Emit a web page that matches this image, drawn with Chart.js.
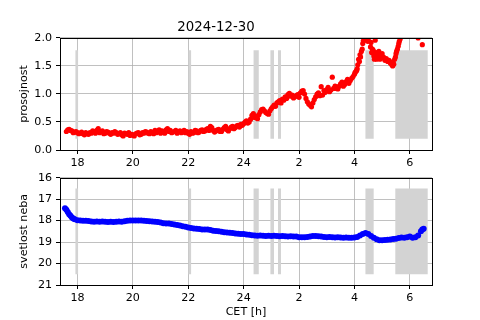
<!DOCTYPE html>
<html>
<head>
<meta charset="utf-8">
<script src="https://cdn.jsdelivr.net/npm/chart.js@4/dist/chart.umd.min.js"></script>
<style>
html,body{margin:0;padding:0;background:#fff;}
#wrap{position:relative;width:480px;height:320px;}
#c1{position:absolute;left:0;top:0;}
#c2{position:absolute;left:0;top:167px;}
</style>
</head>
<body>
<div id="wrap">
<canvas id="c1" width="480" height="167"></canvas>
<canvas id="c2" width="480" height="153"></canvas>
</div>
<script>
// ---- data ----
const titleText = "2024-12-30";
const xTickValues = [18, 20, 22, 24, 26, 28, 30];
const xTickLabels = ["18", "20", "22", "24", "2", "4", "6"];
const topYTicks = [0, 0.5, 1.0, 1.5, 2.0];
const bottomYTicks = [16, 17, 18, 19, 20, 21];

// transparency (prosojnost): hours since midnight of 2024-12-30 (values >24 are next day)
const transTimes = [
 17.6,17.7,17.8,17.9,18.0,18.1,18.2,18.3,18.4,18.5,18.6,18.7,18.8,18.9,19.0,19.1,19.2,19.3,19.4,19.5,
 19.6,19.7,19.8,19.9,20.0,20.1,20.2,20.3,20.4,20.5,20.6,20.7,20.8,20.9,21.0,21.1,21.2,21.3,21.4,21.5,
 21.6,21.7,21.8,21.9,22.0,22.1,22.2,22.3,22.4,22.5,22.6,22.7,22.8,22.9,23.0,23.1,23.2,23.3,23.4,23.5,
 23.6,23.7,23.8,23.9,24.0,24.1,24.2,24.3,24.4,24.5,24.6,24.7,24.8,24.9,25.0,25.1,25.2,25.3,25.4,25.5,
 25.6,25.7,25.8,25.9,26.0,26.1,26.2,26.3,26.4,26.5,26.6,26.7,26.8,26.85,26.9,27.0,27.1,27.2,27.25,27.3,
 27.4,27.5,27.6,27.7,27.8,27.9,28.0,28.05,28.1,28.15,28.2,28.25,28.3,28.35,28.4,28.45,28.5,28.55,28.6,28.65,
 28.7,28.75,28.8,28.85,28.9,28.95,29.0,29.1,29.2,29.3,29.35,29.4,29.45,29.5,29.55,29.6,29.65,29.7,29.8,30.0,
 30.3,30.45
];
const transValues = [
 0.33,0.37,0.34,0.32,0.31,0.30,0.29,0.31,0.28,0.30,0.33,0.35,0.31,0.34,0.30,0.32,0.28,0.30,0.31,0.29,
 0.27,0.30,0.28,0.26,0.27,0.29,0.31,0.28,0.30,0.32,0.29,0.31,0.35,0.33,0.30,0.32,0.36,0.33,0.31,0.33,
 0.30,0.34,0.32,0.31,0.30,0.33,0.31,0.34,0.32,0.36,0.34,0.38,0.42,0.35,0.34,0.37,0.33,0.40,0.36,0.38,
 0.42,0.40,0.44,0.46,0.47,0.52,0.50,0.62,0.58,0.56,0.68,0.73,0.67,0.64,0.74,0.80,0.84,0.88,0.91,0.95,
 0.99,0.96,0.93,0.97,0.94,1.05,1.00,0.86,0.80,0.84,0.95,1.02,1.13,0.98,1.06,1.08,1.04,1.30,1.10,1.14,
 1.09,1.18,1.14,1.22,1.19,1.28,1.35,1.40,1.45,1.62,1.70,1.76,1.90,2.05,1.96,2.10,1.98,2.03,1.92,1.80,
 1.68,1.96,1.62,1.72,1.70,1.64,1.72,1.60,1.58,1.55,1.52,1.56,1.62,1.72,1.80,1.90,1.98,2.05,2.10,2.15,
 2.00,1.88
];
// additional in-between readings of the same series
const transTimes2 = [
 17.65,17.75,17.85,17.95,18.05,18.15,18.25,18.35,18.45,18.55,18.65,18.75,18.85,18.95,19.05,19.15,19.25,19.35,19.45,19.55,
 19.65,19.75,19.85,19.95,20.05,20.15,20.25,20.35,20.45,20.55,20.65,20.75,20.85,20.95,21.05,21.15,21.25,21.35,21.45,21.55,
 21.65,21.75,21.85,21.95,22.05,22.15,22.25,22.35,22.45,22.55,22.65,22.75,22.85,22.95,23.05,23.15,23.25,23.35,23.45,23.55,
 23.65,23.75,23.85,23.95,24.05,24.15,24.25,24.35,24.45,24.55,24.65,24.75,24.85,24.95,25.05,25.15,25.25,25.35,25.45,25.55,
 25.65,25.75,25.85,25.95,26.05,26.15,26.25,26.35,26.45,26.55,26.65,26.75,26.95,27.05,27.15,27.35,27.45,27.55,27.65,27.75,
 27.85,27.95,28.02,28.08,28.12,28.18,28.22,28.28,28.32,28.42,28.48,28.58,28.62,28.68,28.72,28.78,28.82,28.88,28.92,29.05,
 29.15,29.25,29.32,29.38,29.42,29.48,29.52,29.58,29.62
];
const transValues2 = [
 0.36,0.35,0.31,0.33,0.29,0.32,0.27,0.29,0.31,0.34,0.30,0.38,0.33,0.29,0.33,0.30,0.31,0.33,0.28,0.31,
 0.25,0.29,0.31,0.28,0.25,0.30,0.27,0.31,0.33,0.30,0.33,0.29,0.31,0.36,0.34,0.30,0.38,0.35,0.32,0.35,
 0.33,0.31,0.35,0.33,0.28,0.30,0.35,0.31,0.35,0.33,0.37,0.35,0.40,0.32,0.36,0.33,0.37,0.42,0.34,0.41,
 0.38,0.43,0.41,0.44,0.50,0.48,0.55,0.65,0.60,0.63,0.72,0.70,0.65,0.70,0.77,0.78,0.86,0.84,0.89,0.92,
 1.01,0.98,0.95,0.99,1.02,1.06,0.92,0.82,0.77,0.90,1.00,0.97,1.03,1.12,1.07,1.10,1.14,1.21,1.17,1.26,
 1.24,1.31,1.38,1.42,1.52,1.58,1.66,1.80,1.95,2.03,1.94,1.84,1.74,1.78,1.62,1.74,1.67,1.76,1.62,1.66,
 1.63,1.60,1.57,1.50,1.53,1.66,1.76,1.85,1.94
];

// sky brightness (svetlost neba)
const skyTimes = [
 17.55,17.6,17.65,17.7,17.75,17.8,17.85,17.9,18.0,18.1,18.2,18.3,18.4,18.5,18.6,18.7,18.8,18.9,19.0,19.1,
 19.2,19.3,19.4,19.5,19.6,19.7,19.8,19.9,20.0,20.1,20.2,20.3,20.4,20.5,20.6,20.7,20.8,20.9,21.0,21.1,
 21.2,21.3,21.4,21.5,21.6,21.7,21.8,21.9,22.0,22.1,22.2,22.3,22.4,22.5,22.6,22.7,22.8,22.9,23.0,23.1,
 23.2,23.3,23.4,23.5,23.6,23.7,23.8,23.9,24.0,24.1,24.2,24.3,24.4,24.5,24.6,24.7,24.8,24.9,25.0,25.1,
 25.2,25.3,25.4,25.5,25.6,25.7,25.8,25.9,26.0,26.1,26.2,26.3,26.4,26.5,26.6,26.7,26.8,26.9,27.0,27.1,
 27.2,27.3,27.4,27.5,27.6,27.7,27.8,27.9,28.0,28.1,28.2,28.3,28.4,28.5,28.6,28.7,28.8,28.9,29.0,29.1,
 29.2,29.3,29.4,29.5,29.6,29.7,29.8,29.9,30.0,30.1,30.2,30.3,30.4,30.45,30.5
];
const skyValues = [
 17.42,17.50,17.60,17.70,17.78,17.85,17.90,17.94,17.98,18.00,18.01,18.01,18.02,18.04,18.05,18.04,18.05,18.04,18.05,18.06,
 18.05,18.06,18.05,18.04,18.05,18.03,18.01,18.00,18.00,17.99,18.00,17.99,18.01,18.02,18.03,18.04,18.05,18.06,18.09,18.12,
 18.13,18.14,18.16,18.18,18.20,18.23,18.26,18.29,18.32,18.35,18.37,18.38,18.39,18.41,18.42,18.42,18.44,18.47,18.49,18.50,
 18.52,18.54,18.55,18.57,18.58,18.60,18.61,18.62,18.63,18.65,18.66,18.68,18.70,18.71,18.70,18.71,18.72,18.71,18.72,18.71,
 18.72,18.73,18.72,18.73,18.74,18.73,18.74,18.74,18.77,18.78,18.77,18.76,18.74,18.72,18.72,18.73,18.74,18.76,18.77,18.76,
 18.78,18.79,18.78,18.79,18.80,18.79,18.80,18.80,18.79,18.76,18.70,18.62,18.58,18.62,18.72,18.80,18.87,18.92,18.91,18.90,
 18.89,18.88,18.86,18.84,18.81,18.79,18.80,18.77,18.74,18.80,18.78,18.70,18.50,18.42,18.38
];

// cloud flag intervals [start, end] in hours
const cloudStarts = [17.92, 22.0, 24.35, 24.96, 25.24, 28.39, 29.47];
const cloudEnds   = [18.03, 22.11, 24.55, 25.10, 25.35, 28.70, 30.65];
const topBand = [0.2, 1.78];
const bottomBand = [20.5, 16.5];

// ---- chart ----
const FONT = "'DejaVu Sans', sans-serif";
Chart.defaults.font.family = FONT;
Chart.defaults.font.size = 11.1;
Chart.defaults.color = '#000';

const frame = {
  id: 'frame',
  afterDraw(chart) {
    const a = chart.chartArea, ctx = chart.ctx;
    ctx.save();
    ctx.strokeStyle = '#000';
    ctx.lineWidth = 1;
    ctx.strokeRect(Math.round(a.left) + 0.5, Math.round(a.top) + 0.5,
                   Math.round(a.right - a.left), Math.round(a.bottom - a.top));
    ctx.restore();
  }
};

function cloudDatasets(band) {
  return cloudStarts.map((s, i) => ({
    type: 'line',
    data: [{x: s, y: band[1]}, {x: cloudEnds[i], y: band[1]}],
    showLine: true,
    borderWidth: 0,
    borderColor: 'rgba(0,0,0,0)',
    pointRadius: 0,
    backgroundColor: '#d3d3d3',
    fill: {value: band[0]},
    order: 2
  }));
}

function xAxis(showTitle, height) {
  return {
    type: 'linear',
    min: 17.37, max: 30.8,
    afterBuildTicks: s => { s.ticks = xTickValues.map(v => ({value: v})); },
    afterFit: s => { s.height = height; },
    ticks: {
      autoSkip: false, maxRotation: 0, padding: 2,
      callback: (v) => { const i = xTickValues.indexOf(v); return i >= 0 ? xTickLabels[i] : ''; }
    },
    grid: { color: '#b0b0b0', lineWidth: 0.8, tickColor: '#000', tickLength: 4, tickWidth: 1 },
    border: { display: false },
    title: showTitle ? { display: true, text: 'CET [h]', font: {size: 11.1}, padding: {top: 0, bottom: 1} } : {display: false}
  };
}

function yAxis(title, min, max, ticks, reverse, fmt) {
  return {
    type: 'linear', min, max, reverse,
    afterBuildTicks: s => { s.ticks = ticks.map(v => ({value: v})); },
    afterFit: s => { s.width = 60; },
    ticks: { padding: 4, callback: fmt },
    grid: { color: '#b0b0b0', lineWidth: 0.8, tickColor: '#000', tickLength: 4, tickWidth: 1 },
    border: { display: false },
    title: { display: true, text: title, font: {size: 11.1}, padding: {top: 17, bottom: 0} }
  };
}

const transPoints = transTimes.map((t, i) => ({x: t, y: transValues[i]}))
  .concat(transTimes2.map((t, i) => ({x: t, y: transValues2[i]})));

new Chart(document.getElementById('c1'), {
  type: 'scatter',
  data: {
    datasets: [
      {
        data: transPoints,
        backgroundColor: '#ff0000', borderWidth: 0, pointRadius: 2.6, pointHoverRadius: 2.6,
        order: 0, clip: 0
      },
      ...cloudDatasets(topBand)
    ]
  },
  options: {
    responsive: false, animation: false, devicePixelRatio: 1,
    layout: { padding: {left: 0, right: 48, top: 0, bottom: 0} },
    plugins: {
      legend: {display: false}, tooltip: {enabled: false},
      title: { display: true, text: titleText, color: '#000', font: {size: 13.3, weight: 'normal'}, padding: {top: 20, bottom: 2} }
    },
    scales: {
      x: xAxis(false, 17),
      y: yAxis('prosojnost', 0, 2, topYTicks, false, v => v.toFixed(1))
    }
  },
  plugins: [frame]
});

new Chart(document.getElementById('c2'), {
  type: 'scatter',
  data: {
    datasets: [
      {
        data: skyTimes.map((t, i) => ({x: t, y: skyValues[i]})),
        backgroundColor: '#0000ff', borderWidth: 0, pointRadius: 3, pointHoverRadius: 3,
        order: 0, clip: 0
      },
      ...cloudDatasets(bottomBand)
    ]
  },
  options: {
    responsive: false, animation: false, devicePixelRatio: 1,
    layout: { padding: {left: 0, right: 48, top: 6, bottom: 0} },
    plugins: { legend: {display: false}, tooltip: {enabled: false} },
    scales: {
      x: xAxis(true, 35),
      y: yAxis('svetlost neba', 16, 21, bottomYTicks, true, v => String(v))
    }
  },
  plugins: [frame]
});
</script>
</body>
</html>
